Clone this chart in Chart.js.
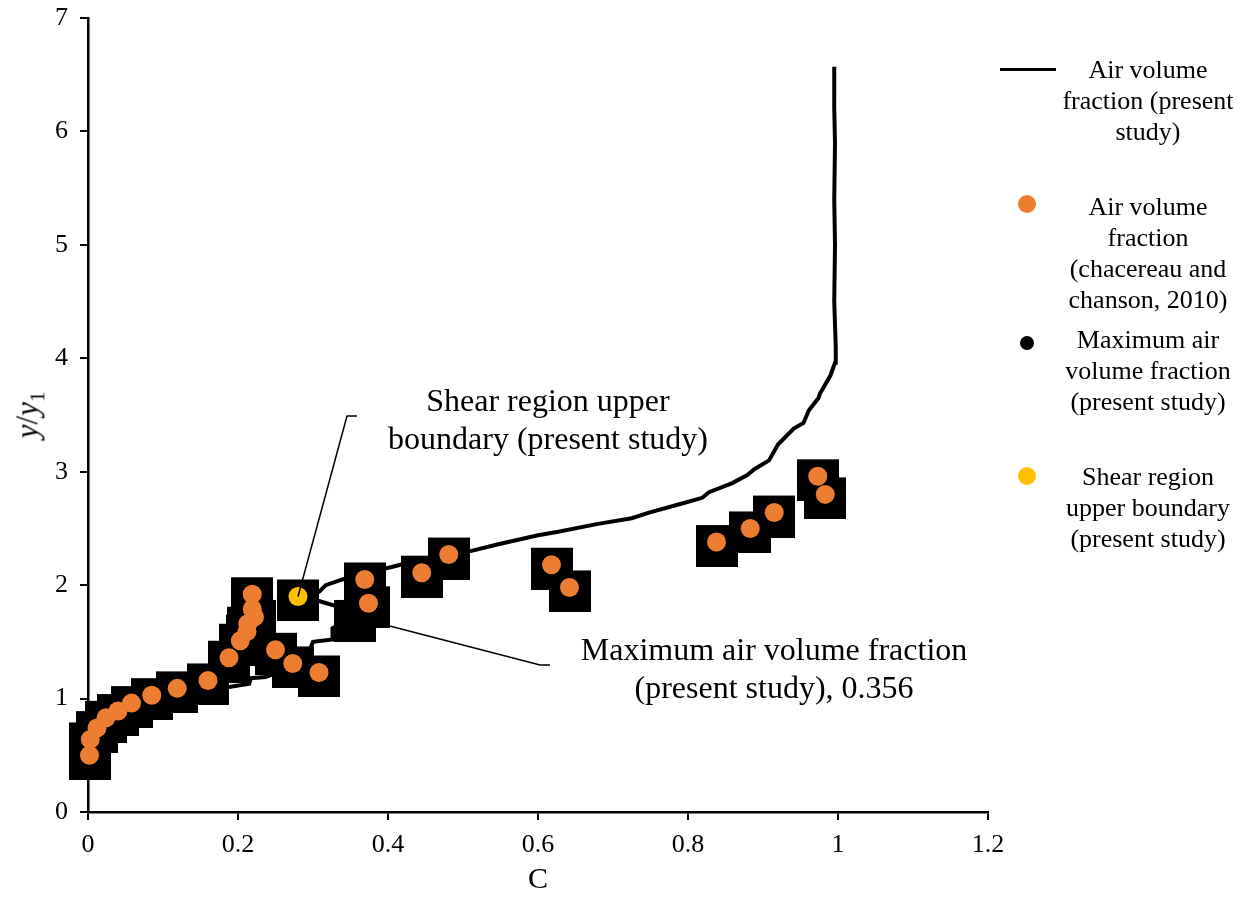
<!DOCTYPE html>
<html>
<head>
<meta charset="utf-8">
<script src="https://cdn.jsdelivr.net/npm/chart.js@4.4.0/dist/chart.umd.min.js"></script>
<style>
  body { margin: 0; background: #fff; font-family: "Liberation Serif", serif; color: #000; }
  #wrap { position: relative; width: 1244px; height: 898px; }
  #chart { position: absolute; left: 0; top: 0; }
  .note { position: absolute; font-size: 32px; line-height: 38px; white-space: nowrap; text-align: center; transform: translateX(-50%); }
  .ytitle { position: absolute; left: 30px; top: 415px; font-size: 31px; white-space: nowrap; transform: translate(-50%, -50%) rotate(-90deg); }
  .ytitle sub { font-size: 21px; }
  .ltxt { position: absolute; left: 1046px; width: 204px; text-align: center; font-size: 26px; line-height: 31px; }
  .dot { position: absolute; border-radius: 50%; }
</style>
</head>
<body>
<div id="wrap">
  <canvas id="chart" width="1244" height="898"></canvas>
  <div class="ytitle"><i>y</i>/<i>y</i><sub>1</sub></div>

  <div class="note" style="left:548px; top:381px;">Shear region upper<br>boundary (present study)</div>
  <div class="note" style="left:774px; top:630px;">Maximum air volume fraction<br>(present study), 0.356</div>

  <div style="position:absolute; left:1000px; top:68px; width:56px; height:3px; background:#000;"></div>
  <div class="ltxt" style="top:54px;">Air volume<br>fraction (present<br>study)</div>

  <div class="dot" style="left:1018px; top:195px; width:18px; height:18px; background:#ED7D31;"></div>
  <div class="ltxt" style="top:191px;">Air volume<br>fraction<br>(chacereau and<br>chanson, 2010)</div>

  <div class="dot" style="left:1020px; top:336px; width:14px; height:14px; background:#000;"></div>
  <div class="ltxt" style="top:324px;">Maximum air<br>volume fraction<br>(present study)</div>

  <div class="dot" style="left:1018px; top:467px; width:18px; height:18px; background:#FFC000;"></div>
  <div class="ltxt" style="top:461px;">Shear region<br>upper boundary<br>(present study)</div>
</div>
<script>
// simulated profile (present study)
const lineC = [0.002, 0.01, 0.03, 0.06, 0.10, 0.14, 0.186, 0.215, 0.217, 0.237, 0.26, 0.28, 0.297, 0.300, 0.326, 0.326,
  0.356, 0.333, 0.308, 0.280, 0.308, 0.317, 0.339, 0.37, 0.405, 0.44, 0.48, 0.51, 0.547, 0.60, 0.627, 0.68, 0.725,
  0.748, 0.792, 0.819, 0.828, 0.859, 0.879, 0.888, 0.908, 0.92, 0.941, 0.954, 0.961, 0.974, 0.976, 0.99, 0.996,
  0.997, 0.995, 0.996, 0.995, 0.996, 0.995, 0.995];
const lineY = [0.45, 0.60, 0.75, 0.88, 0.97, 1.03, 1.10, 1.13, 1.18, 1.19, 1.25, 1.35, 1.45, 1.50, 1.52, 1.62,
  1.72, 1.81, 1.86, 1.90, 1.94, 2.00, 2.05, 2.11, 2.16, 2.22, 2.27, 2.30, 2.36, 2.44, 2.47, 2.54, 2.59,
  2.64, 2.72, 2.77, 2.82, 2.90, 2.97, 3.02, 3.10, 3.24, 3.38, 3.43, 3.54, 3.65, 3.69, 3.85, 3.96,
  4.10, 4.50, 5.00, 5.40, 5.90, 6.20, 6.57];

// chacereau and chanson, 2010
const expC = [0.002, 0.003, 0.012, 0.024, 0.040, 0.058, 0.085, 0.119, 0.160, 0.188, 0.203, 0.212, 0.213, 0.222, 0.219,
  0.219, 0.250, 0.273, 0.308, 0.369, 0.374, 0.445, 0.481, 0.618, 0.642, 0.838, 0.883, 0.915, 0.973, 0.983];
const expY = [0.50, 0.64, 0.74, 0.83, 0.89, 0.96, 1.03, 1.09, 1.16, 1.36, 1.51, 1.59, 1.66, 1.72, 1.79,
  1.92, 1.43, 1.31, 1.23, 2.05, 1.84, 2.11, 2.27, 2.18, 1.98, 2.38, 2.50, 2.64, 2.96, 2.80];

const maxC = [0.356];
const maxY = [1.72];
const shearC = [0.280];
const shearY = [1.90];

const xTicks = [0, 0.2, 0.4, 0.6, 0.8, 1, 1.2];
const yTicks = [0, 1, 2, 3, 4, 5, 6, 7];

const pts = (xs, ys) => xs.map((x, i) => ({ x: x, y: ys[i] }));

// big black square marker (sits a little below its point)
const sq = document.createElement("canvas");
sq.width = 42;
sq.height = 50;
const sctx = sq.getContext("2d");
sctx.fillStyle = "#000";
sctx.fillRect(0, 8, 42, 42);

const leaders = {
  id: "leaders",
  afterDatasetsDraw(chart) {
    const { ctx, scales } = chart;
    const x = scales.x, y = scales.y;
    ctx.save();
    ctx.strokeStyle = "#000";
    ctx.lineWidth = 1.5;
    // shear region label -> yellow point
    ctx.beginPath();
    ctx.moveTo(x.getPixelForValue(shearC[0]), y.getPixelForValue(shearY[0]));
    ctx.lineTo(347, 416);
    ctx.lineTo(357, 416);
    ctx.stroke();
    // maximum label -> max point
    ctx.beginPath();
    ctx.moveTo(x.getPixelForValue(maxC[0]), y.getPixelForValue(maxY[0]));
    ctx.lineTo(540, 665);
    ctx.lineTo(550, 665);
    ctx.stroke();
    ctx.restore();
  },
};

const tickFont = { family: "Liberation Serif", size: 26 };

const ctx = document.getElementById("chart").getContext("2d");
const chart = new Chart(ctx, {
  type: "scatter",
  data: {
    datasets: [
      {
        label: "Shear region upper boundary (present study)",
        data: pts(shearC, shearY),
        backgroundColor: "#FFC000",
        borderWidth: 0,
        pointRadius: 9.5,
        clip: false,
        order: 0,
      },
      {
        label: "Air volume fraction (chacereau and chanson, 2010)",
        data: pts(expC, expY),
        backgroundColor: "#ED7D31",
        borderWidth: 0,
        pointRadius: 9.5,
        clip: false,
        order: 1,
      },
      {
        label: "Maximum air volume fraction (present study)",
        data: pts(maxC, maxY),
        pointStyle: sq,
        clip: false,
        order: 3,
      },
      {
        label: "markers",
        data: pts(expC.concat(shearC), expY.concat(shearY)),
        pointStyle: sq,
        clip: false,
        order: 3,
      },
      {
        label: "Air volume fraction (present study)",
        data: pts(lineC, lineY),
        showLine: true,
        borderColor: "#000",
        borderWidth: 4,
        pointRadius: 0,
        tension: 0,
        clip: false,
        order: 5,
      },
    ],
  },
  options: {
    responsive: false,
    animation: false,
    events: [],
    layout: { padding: { left: 0, top: 18, right: 256, bottom: 0 } },
    plugins: { legend: { display: false }, tooltip: { enabled: false } },
    scales: {
      x: {
        type: "linear",
        min: 0,
        max: 1.2,
        afterBuildTicks: (s) => { s.ticks = xTicks.map((v) => ({ value: v })); },
        afterFit: (s) => { s.height = 86; s.paddingLeft = 0; s.paddingRight = 0; },
        ticks: { font: tickFont, color: "#000", padding: 10, maxRotation: 0, callback: (v) => String(v) },
        grid: { drawOnChartArea: false, color: "#000", lineWidth: 2, tickLength: 8 },
        border: { color: "#000", width: 2.5 },
        title: { display: true, text: "C", color: "#000", font: { family: "Liberation Serif", size: 30 }, padding: { top: 0, bottom: 0 } },
      },
      y: {
        type: "linear",
        min: 0,
        max: 7,
        afterBuildTicks: (s) => { s.ticks = yTicks.map((v) => ({ value: v })); },
        afterFit: (s) => { s.width = 88; s.paddingTop = 0; s.paddingBottom = 0; },
        ticks: { font: tickFont, color: "#000", padding: 12, callback: (v) => String(v) },
        grid: { drawOnChartArea: false, color: "#000", lineWidth: 2, tickLength: 8 },
        border: { color: "#000", width: 2.5 },
      },
    },
  },
  plugins: [leaders],
});
</script>
</body>
</html>
